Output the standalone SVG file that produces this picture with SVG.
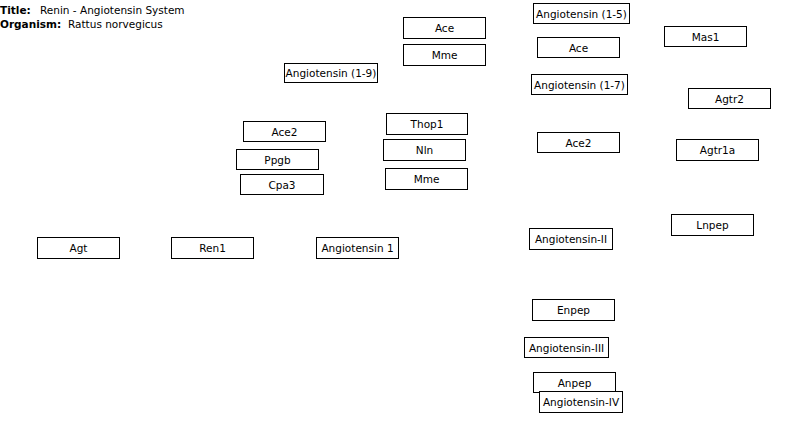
<svg xmlns="http://www.w3.org/2000/svg" width="785" height="427" viewBox="0 0 785 427">
<style>
rect.n{fill:#fff;stroke:#000;stroke-width:1}
text{font-family:"DejaVu Sans",sans-serif;font-size:10.5px;fill:#000}
text.l{text-anchor:middle;dominant-baseline:central}
.b{font-weight:bold}
</style>
<rect width="785" height="427" fill="#fff"/>
<g id="title">
<text x="0" y="14"><tspan class="b">Title:</tspan><tspan x="40">Renin - Angiotensin System</tspan></text>
<text x="0" y="28"><tspan class="b">Organism:</tspan><tspan x="68">Rattus norvegicus</tspan></text>
</g>
<g id="connectors"></g>
<g id="ace1"><rect class="n" x="403.5" y="17.5" width="82" height="21"/><text class="l" x="444.5" y="28">Ace</text></g>
<g id="mme1"><rect class="n" x="403.5" y="44.5" width="82" height="21"/><text class="l" x="444.5" y="55">Mme</text></g>
<g id="ang19"><rect class="n" x="284.5" y="63.5" width="93" height="19"/><text class="l" x="331" y="73">Angiotensin (1-9)</text></g>
<g id="ang15"><rect class="n" x="533.5" y="3.5" width="96" height="20"/><text class="l" x="581.5" y="13.5">Angiotensin (1-5)</text></g>
<g id="ace2r"><rect class="n" x="537.5" y="37.5" width="82" height="20"/><text class="l" x="578.5" y="47.5">Ace</text></g>
<g id="mas1"><rect class="n" x="664.5" y="26.5" width="82" height="20"/><text class="l" x="705.5" y="36.5">Mas1</text></g>
<g id="ang17"><rect class="n" x="531.5" y="74.5" width="96" height="20"/><text class="l" x="579.5" y="84.5">Angiotensin (1-7)</text></g>
<g id="agtr2"><rect class="n" x="688.5" y="88.5" width="82" height="20"/><text class="l" x="729.5" y="98.5">Agtr2</text></g>
<g id="ace2l"><rect class="n" x="243.5" y="121.5" width="82" height="20"/><text class="l" x="284.5" y="131.5">Ace2</text></g>
<g id="thop1"><rect class="n" x="386.5" y="113.5" width="81" height="21"/><text class="l" x="427" y="124">Thop1</text></g>
<g id="ppgb"><rect class="n" x="236.5" y="149.5" width="82" height="20"/><text class="l" x="277.5" y="159.5">Ppgb</text></g>
<g id="nln"><rect class="n" x="383.5" y="139.5" width="82" height="21"/><text class="l" x="424.5" y="150">Nln</text></g>
<g id="cpa3"><rect class="n" x="240.5" y="174.5" width="83" height="20"/><text class="l" x="282" y="184.5">Cpa3</text></g>
<g id="mme2"><rect class="n" x="385.5" y="168.5" width="82" height="21"/><text class="l" x="426.5" y="179">Mme</text></g>
<g id="ace2r2"><rect class="n" x="537.5" y="132.5" width="82" height="20"/><text class="l" x="578.5" y="142.5">Ace2</text></g>
<g id="agtr1a"><rect class="n" x="676.5" y="139.5" width="82" height="21"/><text class="l" x="717.5" y="150">Agtr1a</text></g>
<g id="lnpep"><rect class="n" x="671.5" y="214.5" width="82" height="21"/><text class="l" x="712.5" y="225">Lnpep</text></g>
<g id="agt"><rect class="n" x="37.5" y="237.5" width="82" height="21"/><text class="l" x="78.5" y="248">Agt</text></g>
<g id="ren1"><rect class="n" x="171.5" y="237.5" width="82" height="21"/><text class="l" x="212.5" y="248">Ren1</text></g>
<g id="ang1"><rect class="n" x="316.5" y="237.5" width="82" height="21"/><text class="l" x="357.5" y="248">Angiotensin 1</text></g>
<g id="ang2"><rect class="n" x="529.5" y="228.5" width="83" height="21"/><text class="l" x="571" y="239">Angiotensin-II</text></g>
<g id="enpep"><rect class="n" x="532.5" y="299.5" width="82" height="21"/><text class="l" x="573.5" y="310">Enpep</text></g>
<g id="ang3"><rect class="n" x="524.5" y="337.5" width="84" height="20"/><text class="l" x="566.5" y="347.5">Angiotensin-III</text></g>
<g id="anpep"><rect class="n" x="533.5" y="372.5" width="82" height="20"/><text class="l" x="574.5" y="382.5">Anpep</text></g>
<g id="ang4"><rect class="n" x="539.5" y="391.5" width="83" height="21"/><text class="l" x="581" y="402">Angiotensin-IV</text></g>
</svg>
